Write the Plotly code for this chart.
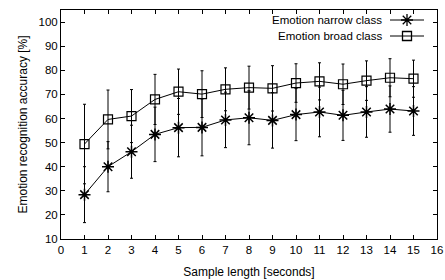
import plotly.graph_objects as go

sample_len = [1, 2, 3, 4, 5, 6, 7, 8, 9, 10, 11, 12, 13, 14, 15]
narrow_acc = [28.4, 40.0, 46.2, 53.4, 56.2, 56.3, 59.4, 60.3, 59.2, 61.6, 62.7, 61.3, 62.7, 63.9, 63.1]
narrow_err = [11.6, 10.4, 11.0, 11.3, 12.1, 11.8, 11.5, 11.2, 11.5, 10.8, 10.3, 10.4, 10.5, 9.6, 10.1]
broad_acc = [49.4, 59.6, 61.0, 67.9, 71.1, 70.1, 72.1, 72.8, 72.5, 74.7, 75.4, 74.2, 75.7, 76.9, 76.5]
broad_err = [16.5, 12.2, 11.0, 10.4, 9.4, 9.7, 8.9, 8.9, 9.4, 8.0, 7.7, 8.4, 8.2, 7.9, 7.7]

x_ticks = list(range(0, 17))
y_ticks = list(range(10, 101, 10))
legend_names = ["Emotion narrow class", "Emotion broad class"]

FONT = "Liberation Sans, Arial, sans-serif"

fig = go.Figure()
fig.add_trace(go.Scatter(
    x=sample_len, y=narrow_acc, mode="lines+markers", name=legend_names[0],
    line=dict(color="black", width=1),
    marker=dict(symbol="asterisk-open", size=10, color="black", line=dict(color="black", width=1.5)),
    error_y=dict(type="data", array=narrow_err, visible=True, color="black", thickness=1, width=1.5),
    showlegend=False,
))
fig.add_trace(go.Scatter(
    x=sample_len, y=broad_acc, mode="lines+markers", name=legend_names[1],
    line=dict(color="black", width=1),
    marker=dict(symbol="square-open", size=9, color="black", line=dict(color="black", width=1.2)),
    error_y=dict(type="data", array=broad_err, visible=True, color="black", thickness=1, width=1.5),
    showlegend=False,
))

# Manual gnuplot-style legend (text left of sample) on an overlay pixel axis
leg_rows = [20, 36]
leg_symbols = ["asterisk-open", "square-open"]
leg_sizes = [10, 9]
for name, yy, sym, sz in zip(legend_names, leg_rows, leg_symbols, leg_sizes):
    fig.add_trace(go.Scatter(
        x=[390, 424], y=[yy, yy], mode="lines", line=dict(color="black", width=1),
        xaxis="x2", yaxis="y2", showlegend=False, hoverinfo="skip"))
    fig.add_trace(go.Scatter(
        x=[407], y=[yy], mode="markers",
        marker=dict(symbol=sym, size=sz, color="black", line=dict(color="black", width=1.3)),
        xaxis="x2", yaxis="y2", showlegend=False, hoverinfo="skip"))
    fig.add_annotation(x=384, y=yy, xref="x2", yref="y2", text=name, showarrow=False,
                       xanchor="right", yanchor="middle", font=dict(family=FONT, size=11.5, color="black"))

axis_common = dict(
    showgrid=False, zeroline=False, showline=True, linecolor="black", linewidth=1,
    mirror="ticks", ticks="inside", ticklen=4, tickcolor="black", tickwidth=1,
    tickfont=dict(family=FONT, size=11.5, color="black"), automargin=False,
)

fig.update_layout(
    width=445, height=280,
    margin=dict(l=61, r=8, t=10, b=41),
    paper_bgcolor="white", plot_bgcolor="white",
    xaxis=dict(range=[0, 16], tickvals=x_ticks, ticktext=[str(v) for v in x_ticks],
               title=dict(text="Sample length [seconds]", font=dict(family=FONT, size=12, color="black"), standoff=12),
               **axis_common),
    yaxis=dict(range=[10, 105], tickvals=y_ticks, ticktext=[str(v) for v in y_ticks],
               title=dict(text="Emotion recognition accuracy [%]", font=dict(family=FONT, size=12, color="black"), standoff=8),
               **axis_common),
    xaxis2=dict(range=[61, 437], overlaying="x", visible=False, fixedrange=True),
    yaxis2=dict(range=[239, 10], overlaying="y", visible=False, fixedrange=True),
    showlegend=False,
)

fig.write_html("out.html", config={"displayModeBar": False},
               post_script="document.body.style.margin='0';document.body.style.overflow='hidden';")
